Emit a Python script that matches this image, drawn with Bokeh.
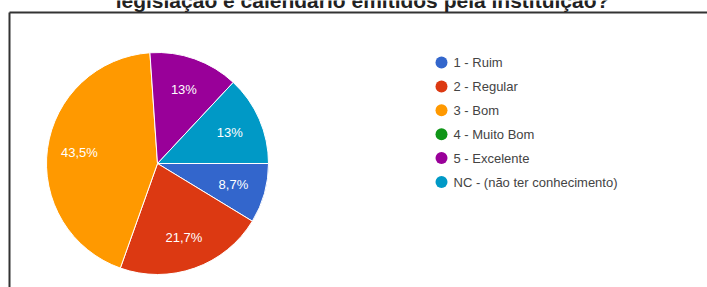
import math
from bokeh.plotting import figure
from bokeh.models import Range1d, ColumnDataSource
from bokeh.core.properties import value
from bokeh.embed import file_html
from bokeh.resources import INLINE

# ---- data ----
title_text = "legislação e calendário emitidos pela instituição?"
categories = ["1 - Ruim", "2 - Regular", "3 - Bom", "4 - Muito Bom", "5 - Excelente", "NC - (não ter conhecimento)"]
counts = [2, 5, 10, 0, 3, 3]
colors = ["#3366cc", "#dc3912", "#ff9900", "#109618", "#990099", "#0099c6"]

W, H = 707, 287
FONT = "Liberation Sans"

def sy(y):
    return H - y

p = figure(width=W, height=H, output_backend="svg", toolbar_location=None,
           x_range=Range1d(0, W), y_range=Range1d(0, H), min_border=0)
p.axis.visible = False
p.grid.visible = False
p.outline_line_color = None
p.background_fill_color = "white"
p.border_fill_color = "white"

# pie
cx, cy, r = 157, sy(163), 111
total = sum(counts)
starts, ends, cols, lx, ly, labels = [], [], [], [], [], []
cum = 0.0
for c, col in zip(counts, colors):
    frac = c / total
    if c > 0:
        a0 = -cum * 2 * math.pi
        a1 = -(cum + frac) * 2 * math.pi
        starts.append(a0)
        ends.append(a1)
        cols.append(col)
        mid = (a0 + a1) / 2
        lx.append(cx + 0.71 * r * math.cos(mid))
        ly.append(cy + 0.71 * r * math.sin(mid))
        pct = round(frac * 100, 1)
        labels.append(f"{pct:g}".replace(".", ",") + "%")
    cum += frac

src = ColumnDataSource(dict(start=starts, end=ends, color=cols))
p.wedge(x=cx, y=cy, radius=r, start_angle="start", end_angle="end", direction="clock",
        fill_color="color", line_color="white", line_width=1, source=src)

p.text(x=lx, y=ly, text=labels, text_color="white", text_font=value(FONT),
       text_font_size="13px", text_align="center", text_baseline="middle")

# legend
leg_x = 441
leg_y0 = 62
leg_dy = 23.9
ys = [sy(leg_y0 + i * leg_dy) for i in range(len(categories))]
p.scatter(x=[leg_x] * len(categories), y=ys, size=12, marker="circle",
          fill_color=colors, line_color=None)
p.text(x=[leg_x + 12] * len(categories), y=ys, text=categories, text_color="#444444",
       text_font=value(FONT), text_font_size="13px", text_align="left", text_baseline="middle")

# frame
p.line(x=[9, 9], y=[sy(287), sy(12)], line_color="#333333", line_width=2)
p.line(x=[9, 707], y=[sy(12), sy(12)], line_color="#333333", line_width=2)

# title (cut off at top, as in the reference)
p.text(x=[362], y=[sy(0)], text=[title_text], text_color="#222222", text_font=value(FONT),
       text_font_size="21px", text_font_style="bold", text_align="center", text_baseline="alphabetic")

open("out.html", "w").write(file_html(p, INLINE))
